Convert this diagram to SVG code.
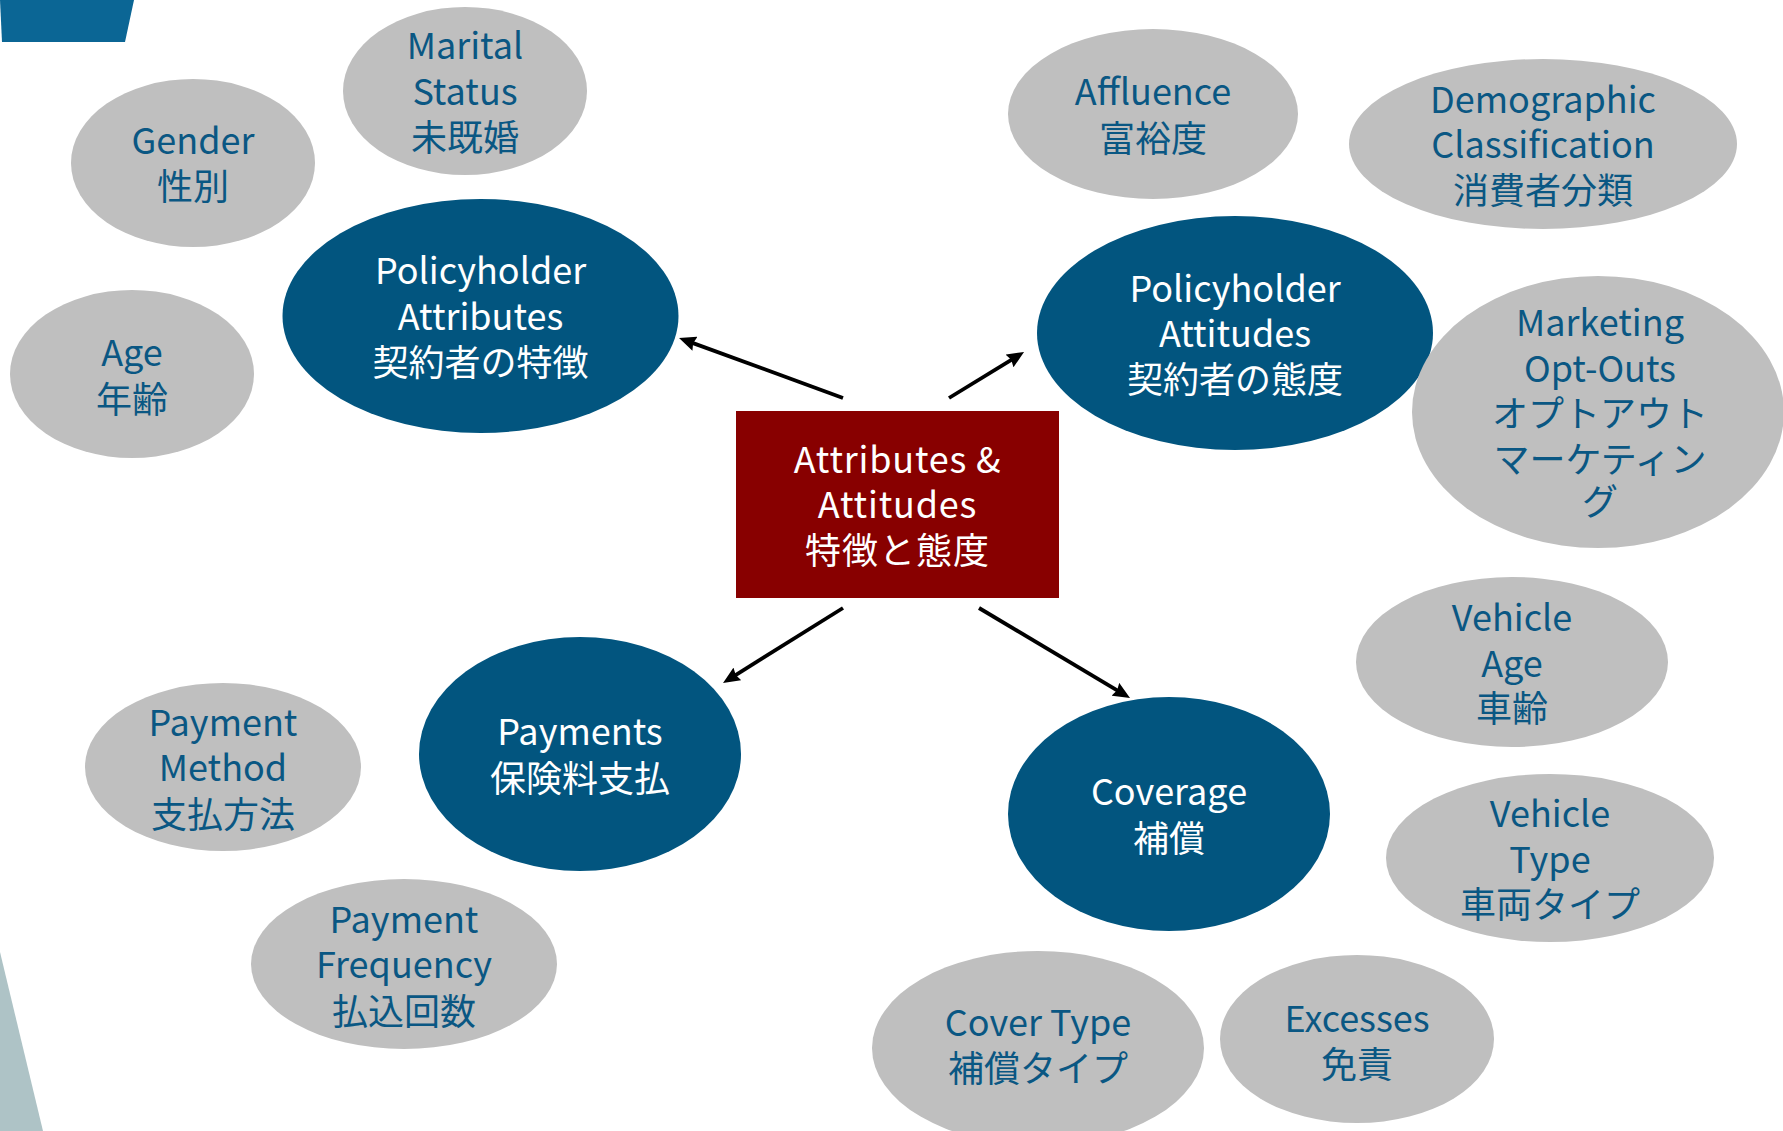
<svg xmlns="http://www.w3.org/2000/svg" width="1783" height="1131" viewBox="0 0 1783 1131">
<style>
.g{fill:#bfbfbf}
.b{fill:#02557f}
.t{font-family:"Noto Sans CJK JP","Noto Sans",sans-serif;font-size:36px;text-anchor:middle}
.tg{fill:#0a5783}
.tw{fill:#ffffff}
.c{stroke:#000;stroke-width:3.8;fill:none;marker-end:url(#ah)}
</style>
<defs>
<marker id="ah" viewBox="0 0 17 15" markerWidth="17" markerHeight="15" refX="5" refY="7.5" orient="auto" markerUnits="userSpaceOnUse">
<path d="M0,0 L17,7.5 L0,15 L2,7.5 z" fill="#000"/>
</marker>
</defs>
<rect width="1783" height="1131" fill="#ffffff"/>
<polygon points="0,0 134,0 125,42 2,42" fill="#0b6695"/>
<polygon points="0,952 43,1131 0,1131" fill="#aec3c6"/>

<g id="marital"><ellipse class="g" cx="465" cy="91" rx="122" ry="84"/>
<text class="t tg" x="465" y="59">Marital</text><text class="t tg" x="465" y="105">Status</text><text class="t tg" x="465" y="151">未既婚</text></g>
<g id="gender"><ellipse class="g" cx="193" cy="163" rx="122" ry="84"/>
<text class="t tg" x="193" y="153.5">Gender</text><text class="t tg" x="193" y="200">性別</text></g>
<g id="age"><ellipse class="g" cx="132" cy="374" rx="122" ry="84"/>
<text class="t tg" x="132" y="366">Age</text><text class="t tg" x="132" y="412.5">年齢</text></g>
<g id="policyholder-attributes"><ellipse class="b" cx="480.5" cy="316" rx="198" ry="117"/>
<text class="t tw" x="480.5" y="284">Policyholder</text><text class="t tw" x="480.5" y="330">Attributes</text><text class="t tw" x="480.5" y="376">契約者の特徴</text></g>

<g id="affluence"><ellipse class="g" cx="1153" cy="114" rx="145" ry="85"/>
<text class="t tg" x="1153" y="105">Affluence</text><text class="t tg" x="1153" y="152">富裕度</text></g>
<g id="demographic"><ellipse class="g" cx="1543" cy="144" rx="194" ry="85"/>
<text class="t tg" x="1543" y="112.5">Demographic</text><text class="t tg" x="1543" y="158">Classification</text><text class="t tg" x="1543" y="203.5">消費者分類</text></g>
<g id="policyholder-attitudes"><ellipse class="b" cx="1235" cy="333" rx="198" ry="117"/>
<text class="t tw" x="1235" y="301.5">Policyholder</text><text class="t tw" x="1235" y="347">Attitudes</text><text class="t tw" x="1235" y="393">契約者の態度</text></g>
<g id="marketing"><ellipse class="g" cx="1598" cy="412" rx="186" ry="136"/>
<text class="t tg" x="1600" y="336">Marketing</text><text class="t tg" x="1600" y="382">Opt-Outs</text><text class="t tg" x="1600" y="427">オプトアウト</text><text class="t tg" x="1600" y="473">マーケティン</text><text class="t tg" x="1600" y="515">グ</text></g>

<g id="center"><rect x="736" y="411" width="323" height="187" fill="#880000"/>
<text class="t tw" x="897.5" y="473" letter-spacing="0.8">Attributes &amp;</text><text class="t tw" x="897.5" y="517.5" letter-spacing="0.8">Attitudes</text><text class="t tw" x="897.5" y="564" letter-spacing="1">特徴と態度</text></g>

<g id="payment-method"><ellipse class="g" cx="223" cy="767" rx="138" ry="84"/>
<text class="t tg" x="223" y="735.5">Payment</text><text class="t tg" x="223" y="781">Method</text><text class="t tg" x="223" y="827.5">支払方法</text></g>
<g id="payment-frequency"><ellipse class="g" cx="404" cy="964" rx="153" ry="85"/>
<text class="t tg" x="404" y="932.5">Payment</text><text class="t tg" x="404" y="978">Frequency</text><text class="t tg" x="404" y="1024.5">払込回数</text></g>
<g id="payments"><ellipse class="b" cx="580" cy="754" rx="161" ry="117"/>
<text class="t tw" x="580" y="744.5">Payments</text><text class="t tw" x="580" y="792">保険料支払</text></g>

<g id="vehicle-age"><ellipse class="g" cx="1512" cy="662" rx="156" ry="85"/>
<text class="t tg" x="1512" y="631">Vehicle</text><text class="t tg" x="1512" y="676.5">Age</text><text class="t tg" x="1512" y="722">車齢</text></g>
<g id="vehicle-type"><ellipse class="g" cx="1550" cy="858" rx="164" ry="84"/>
<text class="t tg" x="1550" y="826.5">Vehicle</text><text class="t tg" x="1550" y="872.5">Type</text><text class="t tg" x="1550" y="917.5">車両タイプ</text></g>
<g id="coverage"><ellipse class="b" cx="1169" cy="814" rx="161" ry="117"/>
<text class="t tw" x="1169" y="805">Coverage</text><text class="t tw" x="1169" y="852">補償</text></g>
<g id="cover-type"><ellipse class="g" cx="1038" cy="1048" rx="166" ry="97"/>
<text class="t tg" x="1038" y="1036">Cover Type</text><text class="t tg" x="1038" y="1081.5">補償タイプ</text></g>
<g id="excesses"><ellipse class="g" cx="1357" cy="1039" rx="137" ry="84"/>
<text class="t tg" x="1357" y="1031.5">Excesses</text><text class="t tg" x="1357" y="1078">免責</text></g>

<g id="connectors">
<path class="c" d="M843,398 L690.3,342.1"/>
<path class="c" d="M949,398 L1013.8,358.3"/>
<path class="c" d="M843,608 L733.2,676.6"/>
<path class="c" d="M979,608 L1119.7,691.9"/>
</g>
</svg>
